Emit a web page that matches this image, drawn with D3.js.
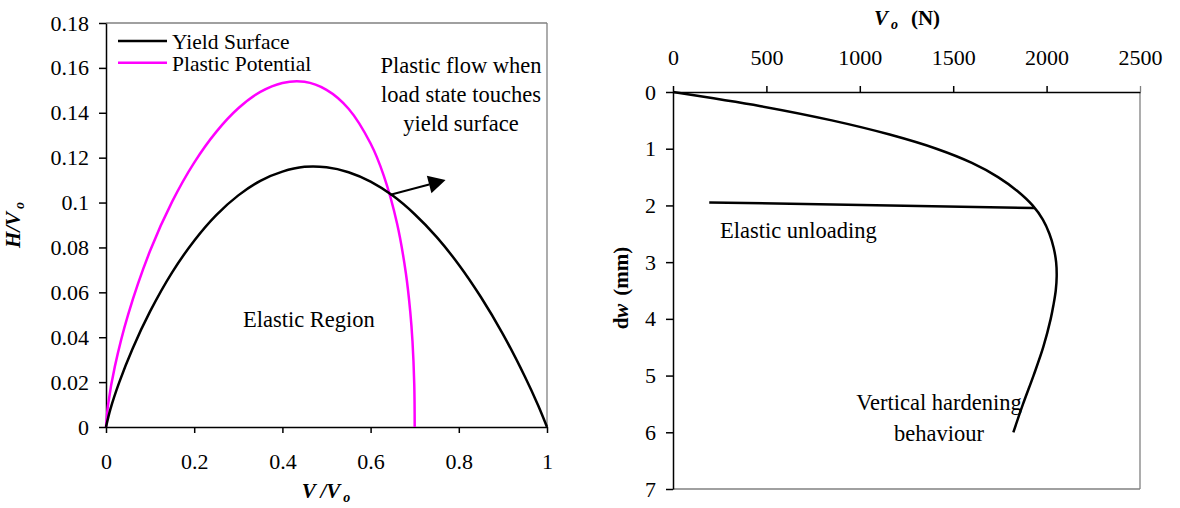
<!DOCTYPE html>
<html><head><meta charset="utf-8">
<script src="https://cdn.jsdelivr.net/npm/d3@7"></script>
<style>
body{margin:0;background:#fff}
svg{display:block}
text{font-family:"Liberation Serif","Times New Roman",serif;fill:#000}
</style>
</head><body>
<svg id="c" width="1180" height="508"></svg>
<script>
// ---------- DATA ----------
// Left chart: normalised load space (V/Vo, H/Vo)
const yieldV = [0, 0.01, 0.03, 0.06, 0.10, 0.15, 0.20, 0.25, 0.30, 0.35, 0.40, 0.45, 0.50, 0.55, 0.60, 0.65, 0.70, 0.75, 0.80, 0.85, 0.90, 0.95, 0.98, 1.0];
const yieldH = [0, 0.0080, 0.0199, 0.0348, 0.0515, 0.0689, 0.0830, 0.0944, 0.1032, 0.1097, 0.1138, 0.1159, 0.1157, 0.1135, 0.1093, 0.1031, 0.0948, 0.0846, 0.0723, 0.0579, 0.0414, 0.0224, 0.0096, 0];
const plasticV = [0, 0.005, 0.02, 0.05, 0.10, 0.15, 0.20, 0.25, 0.30, 0.35, 0.40, 0.45, 0.50, 0.55, 0.60, 0.63, 0.66, 0.68, 0.69, 0.695, 0.699, 0.70];
const plasticH = [0, 0.0103, 0.0269, 0.0500, 0.0785, 0.1004, 0.1178, 0.1315, 0.1420, 0.1493, 0.1533, 0.1538, 0.1502, 0.1418, 0.1263, 0.1119, 0.0907, 0.0685, 0.0512, 0.0381, 0.0190, 0];
const leftXTicks = [0, 0.2, 0.4, 0.6, 0.8, 1];
const leftXLabels = ["0", "0.2", "0.4", "0.6", "0.8", "1"];
const leftYTicks = [0, 0.02, 0.04, 0.06, 0.08, 0.1, 0.12, 0.14, 0.16, 0.18];
const leftYLabels = ["0", "0.02", "0.04", "0.06", "0.08", "0.1", "0.12", "0.14", "0.16", "0.18"];
const legendNames = ["Yield Surface", "Plastic Potential"];
const flowArrowFrom = [0.645, 0.1035];
const flowArrowTo = [0.770, 0.110];

// Right chart: vertical load Vo (N) vs displacement dw (mm)
const loadDw = [0, 0.25, 0.5, 0.75, 1.0, 1.25, 1.5, 1.75, 2.0, 2.25, 2.5, 2.75, 3.0, 3.25, 3.5, 3.75, 4.0, 4.5, 5.0, 5.5, 6.0];
const loadV  = [0, 470, 850, 1160, 1410, 1600, 1740, 1845, 1925, 1980, 2015, 2038, 2051, 2054, 2049, 2037, 2022, 1982, 1930, 1874, 1822];
const unloadV = [1935, 194];
const unloadDw = [2.046, 1.947];
const rightXTicks = [0, 500, 1000, 1500, 2000, 2500];
const rightYTicks = [0, 1, 2, 3, 4, 5, 6, 7];

// ---------- DRAW ----------
const svg = d3.select("#c");
const black = "#000", grey = "#808080", magenta = "#ff00ff";

// ===== Left chart =====
const x = d3.scaleLinear().domain([0, 1]).range([106, 547]);
const y = d3.scaleLinear().domain([0, 0.18]).range([427, 23]);

svg.append("line").attr("x1", x(0)).attr("x2", x(1)).attr("y1", y(0.18)).attr("y2", y(0.18)).attr("stroke", grey).attr("stroke-width", 1.3);
svg.append("line").attr("x1", x(1)).attr("x2", x(1)).attr("y1", y(0.18)).attr("y2", y(0)).attr("stroke", grey).attr("stroke-width", 1.3);

const gyL = svg.append("g").attr("transform", `translate(${x(0)},0)`)
  .call(d3.axisLeft(y).tickValues(leftYTicks).tickFormat((d, i) => leftYLabels[i]).tickSize(7).tickSizeOuter(0).tickPadding(10));
const gxL = svg.append("g").attr("transform", `translate(0,${y(0)})`)
  .call(d3.axisBottom(x).tickValues(leftXTicks).tickFormat((d, i) => leftXLabels[i]).tickSize(6).tickSizeOuter(0).tickPadding(20));
[gyL, gxL].forEach(g => {
  g.selectAll("path,line").attr("stroke", black).attr("stroke-width", 1.5);
  g.selectAll("text").style("font-family", '"Liberation Serif",serif').style("font-size", "22px").attr("fill", black);
});

const lineL = d3.line().x(d => x(d[0])).y(d => y(d[1])).curve(d3.curveCatmullRom.alpha(0.5));
svg.append("path").datum(plasticV.map((v, i) => [v, plasticH[i]])).attr("d", lineL)
  .attr("fill", "none").attr("stroke", magenta).attr("stroke-width", 2.5);
svg.append("path").datum(yieldV.map((v, i) => [v, yieldH[i]])).attr("d", lineL)
  .attr("fill", "none").attr("stroke", black).attr("stroke-width", 2.5);

// legend
const legColors = [black, magenta];
legendNames.forEach((n, i) => {
  const ly = 41 + i * 21.7;
  svg.append("line").attr("x1", 118).attr("x2", 167).attr("y1", ly).attr("y2", ly)
    .attr("stroke", legColors[i]).attr("stroke-width", 2.5);
  svg.append("text").attr("x", 172).attr("y", ly + 8).style("font-size", "21.5px").text(n);
});

// arrow
{
  const x1 = x(flowArrowFrom[0]), y1 = y(flowArrowFrom[1]);
  const x2 = x(flowArrowTo[0]), y2 = y(flowArrowTo[1]);
  const dx = x2 - x1, dy = y2 - y1, L = Math.hypot(dx, dy);
  const ux = dx / L, uy = dy / L, px = -uy, py = ux;
  const hl = 17, hw = 9;
  const bx = x2 - ux * hl, by = y2 - uy * hl;
  svg.append("line").attr("x1", x1).attr("y1", y1).attr("x2", bx).attr("y2", by)
    .attr("stroke", black).attr("stroke-width", 2);
  svg.append("polygon").attr("points", `${x2},${y2} ${bx + px * hw},${by + py * hw} ${bx - px * hw},${by - py * hw}`)
    .attr("fill", black);
}

["Plastic flow when", "load state touches", "yield surface"].forEach((t, i) => {
  svg.append("text").attr("x", 461).attr("y", 73 + i * 29).attr("text-anchor", "middle").style("font-size", "22.5px").text(t);
});
svg.append("text").attr("x", 243).attr("y", 327).style("font-size", "22.5px").text("Elastic Region");

{
  const t = svg.append("text").attr("text-anchor", "middle")
    .attr("transform", "translate(20,225) rotate(-90)")
    .style("font-size", "21px").style("font-weight", "bold").style("font-style", "italic");
  t.append("tspan").text("H/V");
  t.append("tspan").attr("dx", 3).attr("dy", 4).style("font-size", "14px").text("o");
}
{
  const t = svg.append("text").attr("text-anchor", "middle").attr("x", 326).attr("y", 498)
    .style("font-size", "21px").style("font-weight", "bold").style("font-style", "italic");
  t.append("tspan").text("V /V");
  t.append("tspan").attr("dx", 3).attr("dy", 4).style("font-size", "14px").text("o");
}

// ===== Right chart =====
const x2s = d3.scaleLinear().domain([0, 2500]).range([673, 1140]);
const y2s = d3.scaleLinear().domain([0, 7]).range([92, 489]);

svg.append("line").attr("x1", x2s(2500)).attr("x2", x2s(2500)).attr("y1", y2s(0)).attr("y2", y2s(7)).attr("stroke", grey).attr("stroke-width", 1.3);
svg.append("line").attr("x1", x2s(0)).attr("x2", x2s(2500)).attr("y1", y2s(7)).attr("y2", y2s(7)).attr("stroke", grey).attr("stroke-width", 1.3);

const gxR = svg.append("g").attr("transform", `translate(0,${y2s(0)})`)
  .call(d3.axisTop(x2s).tickValues(rightXTicks).tickFormat(d3.format("d")).tickSize(6).tickSizeOuter(0).tickPadding(21));
const gyR = svg.append("g").attr("transform", `translate(${x2s(0)},0)`)
  .call(d3.axisLeft(y2s).tickValues(rightYTicks).tickFormat(d3.format("d")).tickSize(7).tickSizeOuter(0).tickPadding(10));
[gxR, gyR].forEach(g => {
  g.selectAll("path,line").attr("stroke", black).attr("stroke-width", 1.5);
  g.selectAll("text").style("font-family", '"Liberation Serif",serif').style("font-size", "22px").attr("fill", black);
});
gxR.selectAll(".tick").filter(d => d === 2500).select("line").attr("stroke", grey).attr("stroke-width", 1.3);

const lineR = d3.line().x(d => x2s(d[0])).y(d => y2s(d[1])).curve(d3.curveCatmullRom.alpha(0.5));
svg.append("path").datum(loadV.map((v, i) => [v, loadDw[i]])).attr("d", lineR)
  .attr("fill", "none").attr("stroke", black).attr("stroke-width", 2.5);
svg.append("path").datum(unloadV.map((v, i) => [v, unloadDw[i]])).attr("d", d3.line().x(d => x2s(d[0])).y(d => y2s(d[1])))
  .attr("fill", "none").attr("stroke", black).attr("stroke-width", 2.5);

svg.append("text").attr("x", 720).attr("y", 238).style("font-size", "22.5px").text("Elastic unloading");
["Vertical hardening", "behaviour"].forEach((t, i) => {
  svg.append("text").attr("x", 939).attr("y", 410 + i * 30.5).attr("text-anchor", "middle").style("font-size", "22.5px").text(t);
});

{
  const t = svg.append("text").attr("text-anchor", "middle").attr("x", 907).attr("y", 25)
    .style("font-size", "21px").style("font-weight", "bold");
  t.append("tspan").style("font-style", "italic").text("V");
  t.append("tspan").style("font-style", "italic").attr("dx", 3).attr("dy", 4).style("font-size", "14px").text("o");
  t.append("tspan").attr("dx", 13).attr("dy", -4).text("(N)");
}
{
  const t = svg.append("text").attr("text-anchor", "middle")
    .attr("transform", "translate(628,288) rotate(-90)")
    .style("font-size", "21px").style("font-weight", "bold");
  t.append("tspan").text("d");
  t.append("tspan").style("font-style", "italic").text("w");
  t.append("tspan").attr("dx", 8).text("(mm)");
}
</script>
</body></html>
